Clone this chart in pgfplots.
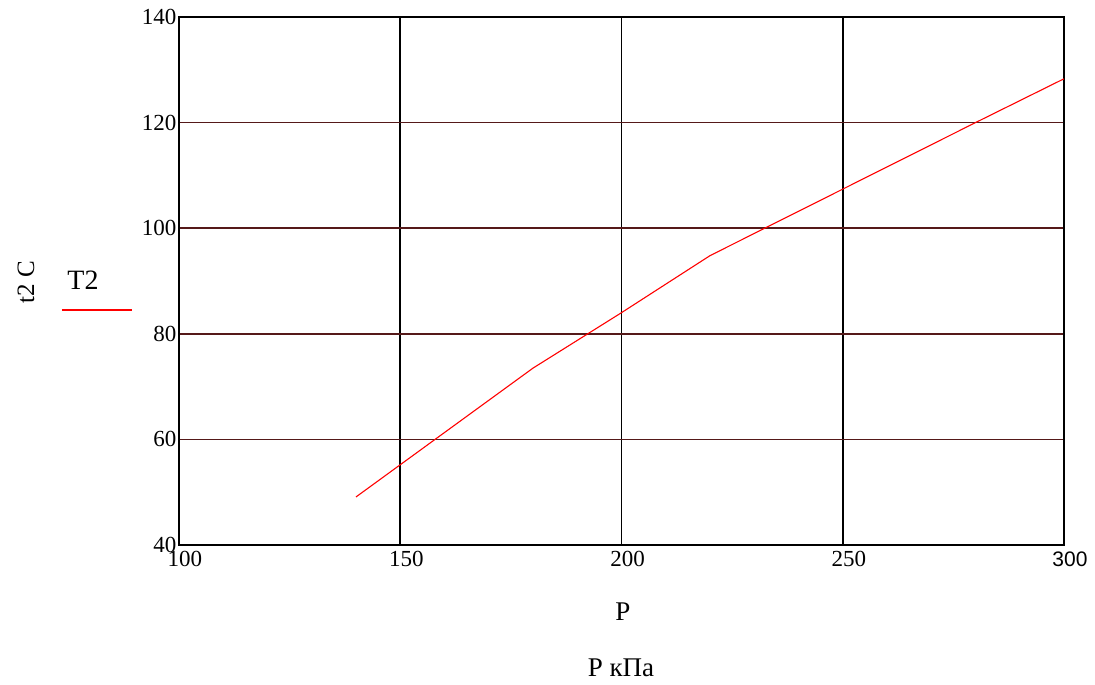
\documentclass[border=0pt]{standalone}
\usepackage{fontspec}
\setmainfont{Liberation Serif}
\newfontfamily\sansf{Liberation Sans}
\usepackage{pgfplots}
\pgfplotsset{compat=1.18}
\definecolor{gridh}{RGB}{85,25,25}
\begin{document}
\begin{tikzpicture}[x=1pt,y=1pt]
\path[use as bounding box] (-179,-140) rectangle (916,545);
\begin{axis}[name=ax, at={(0,0)}, anchor=south west, scale only axis,
  width=885pt, height=528pt,
  xmin=100, xmax=300, ymin=40, ymax=140,
  xtick={100,150,200,250,300}, ytick={40,60,80,100,120,140},
  xticklabels={100,150,200,250,{\sansf\fontsize{21}{21}\selectfont 300}},
  major tick length=0pt,
  xmajorgrids, ymajorgrids,
  x grid style={black, line width=1.6pt},
  y grid style={gridh, line width=1.6pt},
  axis line style={black, line width=1.8pt},
  ticklabel style={font=\fontsize{23}{23}\selectfont},
  /pgf/number format/assume math mode=true,
  x tick label style={yshift=-3pt, xshift=6pt},
  y tick label style={xshift=1pt},
]
\addplot[red, line width=1.1pt] coordinates {
(140,49.1) (160,61.3) (180,73.5) (200,84.0) (220,94.8)
(240,103.2) (260,111.6) (280,120.0) (300,128.3)};
\end{axis}
\node[font=\fontsize{27}{27}\selectfont] at (444,-67) {P};
\node[font=\fontsize{27}{27}\selectfont] at (442,-123) {P кПа};
\node[font=\fontsize{25}{25}\selectfont, rotate=90] at (-153,263) {t2 C};
\node[font=\fontsize{28}{28}\selectfont] at (-96,265) {T2};
\draw[red, line width=1.4pt] (-117,235) -- (-47,235);
\end{tikzpicture}
\end{document}
